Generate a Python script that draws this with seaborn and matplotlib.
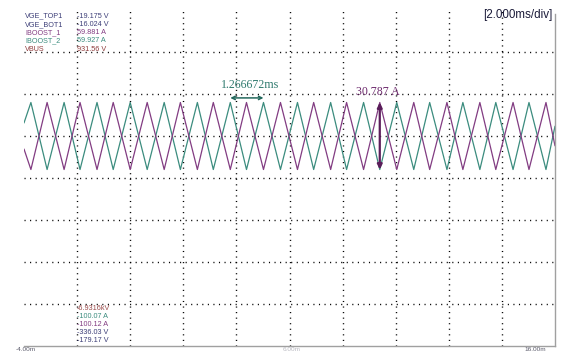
"""Scope capture: boost inductor currents, interleaved triangle ripple."""

import matplotlib

matplotlib.use("Agg")
import matplotlib.pyplot as plt
import numpy as np
import pandas as pd
import seaborn as sns

W, H = 577, 353

# vertex times (ms), with the current at each vertex (A)
time_ms = [-4.0,
           -3.74, -3.13, -2.49, -1.89, -1.25, -0.64, 0.00, 0.64,
           1.28, 1.89, 2.53, 3.13, 3.77, 4.38, 5.02, 5.66,
           6.30, 6.91, 7.55, 8.15, 8.79, 9.40, 10.04, 10.68,
           11.28, 11.93, 12.53, 13.17, 13.77, 14.42, 15.02, 15.66,
           16.0]
iboost_2 = [6.0,
            15.4, -15.4, 15.4, -15.4, 15.4, -15.4, 15.4, -15.4,
            15.4, -15.4, 15.4, -15.4, 15.4, -15.4, 15.4, -15.4,
            15.4, -15.4, 15.4, -15.4, 15.4, -15.4, 15.4, -15.4,
            15.4, -15.4, 15.4, -15.4, 15.4, -15.4, 15.4, -15.4,
            4.5]
iboost_1 = [-6.0,
            -15.4, 15.4, -15.4, 15.4, -15.4, 15.4, -15.4, 15.4,
            -15.4, 15.4, -15.4, 15.4, -15.4, 15.4, -15.4, 15.4,
            -15.4, 15.4, -15.4, 15.4, -15.4, 15.4, -15.4, 15.4,
            -15.4, 15.4, -15.4, 15.4, -15.4, 15.4, -15.4, 15.4,
            -4.5]

channels = ["VGE_TOP1", "VGE_BOT1", "IBOOST_1", "IBOOST_2", "VBUS"]
top_values = ["-19.175 V", "-16.024 V", "59.881 A", "59.927 A", "931.56 V"]
bottom_values = ["-6.9316kV", "-100.07 A", "-100.12 A", "-336.03 V", "-179.17 V"]
time_labels = ["-4.00m", "6.00m", "16.00m"]

period_ms = 1.266672
pk_pk_a = 30.787

COLORS = {
    "VGE_TOP1": "#3d3f78",
    "VGE_BOT1": "#3d3f78",
    "IBOOST_1": "#823c82",
    "IBOOST_2": "#3b8c7e",
    "VBUS": "#8e3b3b",
}
BOTTOM_COLORS = ["#9a4a4a", "#3b8c7e", "#823c82", "#3d3f78", "#3d3f78"]


def fx(px):
    return px / W


def fy(py):
    return 1 - py / H


def main():
    sns.set_style("white")
    plt.rcParams["font.family"] = ["Liberation Sans", "DejaVu Sans"]

    fig = plt.figure(figsize=(W / 100, H / 100), dpi=100)
    ax = fig.add_axes([fx(24), fy(346), fx(555) - fx(24), fy(10) - fy(346)])

    df = pd.DataFrame({
        "t": time_ms * 2,
        "i": iboost_2 + iboost_1,
        "ch": ["IBOOST_2"] * len(time_ms) + ["IBOOST_1"] * len(time_ms),
    })
    sns.lineplot(data=df, x="t", y="i", hue="ch", hue_order=["IBOOST_2", "IBOOST_1"],
                 palette=[COLORS["IBOOST_2"], COLORS["IBOOST_1"]],
                 estimator=None, sort=False, lw=0.9, legend=False, ax=ax)

    ylo, yhi = -96.5, 57.9
    ax.set_xlim(-4, 16)
    ax.set_ylim(ylo, yhi)
    ax.set_xticks(np.linspace(-4, 16, 11)[1:-1])
    ax.set_yticks(np.linspace(ylo, yhi, 9)[1:-1])
    ax.grid(True, color="black", lw=1.0, linestyle=(0, (0.8, 3.2)))
    ax.tick_params(length=0, labelbottom=False, labelleft=False)
    ax.set(xlabel="", ylabel="")
    for side in ("left", "top"):
        ax.spines[side].set_visible(False)
    for side in ("right", "bottom"):
        ax.spines[side].set_color("#a0a0a0")
        ax.spines[side].set_linewidth(1.0)
    ax.spines["right"].set_bounds(ylo, 56.0)

    # period measurement between two IBOOST_2 peaks
    ax.annotate("", xy=(3.77, 17.5), xytext=(5.02, 17.5),
                arrowprops=dict(arrowstyle="<->", color="#23685c", lw=1.1, mutation_scale=6,
                                shrinkA=0, shrinkB=0))
    fig.text(fx(250), fy(85), f"{period_ms:.6f}ms", family=["Liberation Serif"], fontsize=8.6,
             color="#2f7a6e", ha="center", va="center")

    # peak-to-peak measurement on IBOOST_1
    ax.annotate("", xy=(9.40, 15.4), xytext=(9.40, -15.4),
                arrowprops=dict(arrowstyle="<|-|>", color="#5a1d5a", lw=1.6, mutation_scale=7,
                                shrinkA=0, shrinkB=0))
    fig.text(fx(378), fy(92), f"{pk_pk_a:.3f} A", family=["Liberation Serif"], fontsize=8.6,
             color="#6d2a6d", ha="center", va="center")

    for k, (name, val) in enumerate(zip(channels, top_values)):
        y = 16 + k * 8.3
        fig.text(fx(25), fy(y), name, fontsize=5.2, color=COLORS[name], va="center")
        fig.text(fx(77), fy(y), val, fontsize=5.2, color=COLORS[name], va="center")
    for k, val in enumerate(bottom_values):
        fig.text(fx(77), fy(309 + k * 7.9), val, fontsize=5.2, color=BOTTOM_COLORS[k], va="center")

    fig.text(fx(553), fy(15), "[2.000ms/div]", fontsize=8.4, color="#1c1c3a", ha="right", va="center")

    label_colors = ["#5a5a6a", "#b8b8c0", "#5a5a6a"]
    for px, lab, c in zip((26, 292, 535), time_labels, label_colors):
        fig.text(fx(px), fy(349.5), lab, fontsize=4.6, color=c, ha="center", va="center")

    fig.savefig("out.png", dpi=100)
    plt.close(fig)


if __name__ == "__main__":
    main()
